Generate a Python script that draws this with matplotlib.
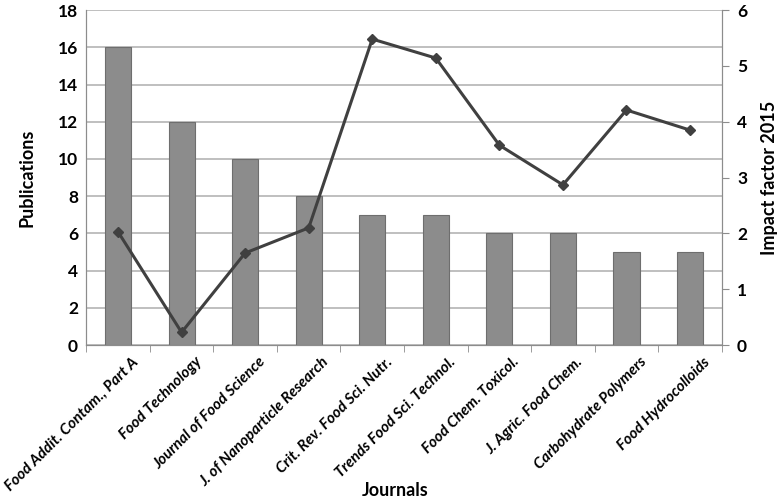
import numpy as np
import matplotlib.pyplot as plt
import matplotlib.transforms as mtransforms

plt.rcParams['font.family'] = ['Lato', 'DejaVu Sans']

journals = ['Food Addit. Contam., Part A', 'Food Technology', 'Journal of Food Science',
            'J. of Nanoparticle Research', 'Crit. Rev. Food Sci. Nutr.',
            'Trends Food Sci. Technol.', 'Food Chem. Toxicol.', 'J. Agric. Food Chem.',
            'Carbohydrate Polymers', 'Food Hydrocolloids']
publications = [16, 12, 10, 8, 7, 7, 6, 6, 5, 5]
impact_factor = [2.03, 0.23, 1.65, 2.10, 5.48, 5.14, 3.58, 2.87, 4.21, 3.85]

fig = plt.figure(figsize=(7.77, 5.01), dpi=100)
ax = fig.add_axes([0.111, 0.311, 0.818, 0.669])
x = np.arange(len(journals))

ax.bar(x, publications, width=0.41, color='#8c8c8c', edgecolor='#6e6e6e', linewidth=0.8, zorder=3)
ax.set_ylim(0, 18)
ax.set_yticks(range(0, 19, 2))
ax.set_xlim(-0.5, len(journals) - 0.5)
ax.yaxis.grid(True, color='#b4b4b4', linewidth=1.2, zorder=0)
ax.set_axisbelow(True)

ax.set_xticks(x)
ax.set_xticklabels(journals, rotation=45, ha='right', rotation_mode='anchor',
                   fontsize=11, fontweight='bold', fontstyle='italic')
ax.tick_params(axis='x', length=0, pad=7)
offset = mtransforms.ScaledTranslation(0.13, 0, fig.dpi_scale_trans)
for t in ax.get_xticklabels():
    t.set_transform(t.get_transform() + offset)
ax.set_xticks(np.arange(-0.5, len(journals)), minor=True)
ax.tick_params(axis='x', which='minor', length=5, color='#8c8c8c')
ax.tick_params(axis='y', length=0, labelsize=12.5, pad=6)
for t in ax.get_yticklabels():
    t.set_fontweight('bold')

ax.spines['top'].set_visible(False)
for s in ['left', 'right', 'bottom']:
    ax.spines[s].set_color('#8c8c8c')

ax.set_ylabel('Publications', fontsize=13, fontweight='bold', labelpad=16)
fig.text(395 / 777, 1 - 490 / 501, 'Journals', fontsize=13, fontweight='bold',
         ha='center', va='center')

ax2 = ax.twinx()
ax2.plot(x, impact_factor, color='#404040', linewidth=2.2, marker='D', markersize=5, zorder=4)
ax2.set_ylim(0, 6)
ax2.set_yticks(range(0, 7))
ax2.tick_params(axis='y', length=5, color='#8c8c8c', labelsize=12.5, pad=6)
for t in ax2.get_yticklabels():
    t.set_fontweight('bold')
ax2.spines['top'].set_visible(False)
for s in ['left', 'right', 'bottom']:
    ax2.spines[s].set_color('#8c8c8c')
ax2.set_ylabel('Impact factor 2015', fontsize=13, fontweight='bold', labelpad=10)

fig.savefig('out.png', dpi=100)
